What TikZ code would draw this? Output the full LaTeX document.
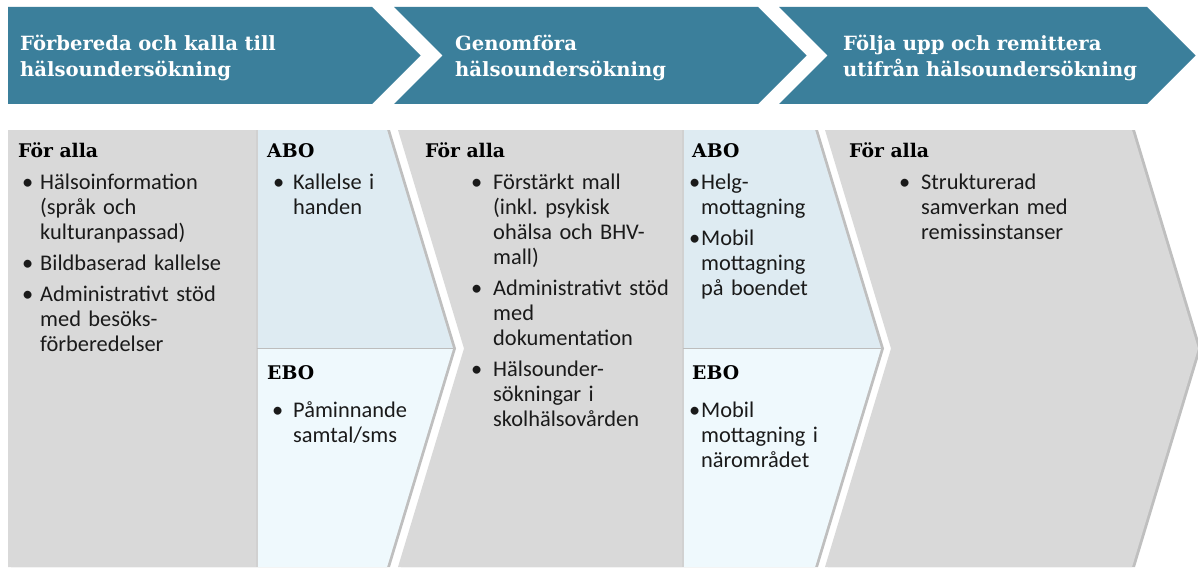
\documentclass[tikz,border=0pt]{standalone}
\usepackage{fontspec}
\setmainfont{Carlito}
\newfontfamily\headfont{DejaVu Serif}
\usetikzlibrary{shadows}
\frenchspacing
\definecolor{bannerblue}{HTML}{3B7F9B}
\definecolor{panelgrey}{HTML}{D9D9D9}
\definecolor{abofill}{HTML}{DEEBF2}
\definecolor{ebofill}{HTML}{EFF9FD}
\definecolor{sepgrey}{HTML}{BDBDBD}
\definecolor{bodytext}{HTML}{1A1A1A}
% bullet item with hanging text, #1 = indent from bullet to text
\newcommand{\itm}[2]{\setlength{\parskip}{6pt}\hangindent=#1\hangafter=1\noindent\hbox to #1{\textbullet\hfil}#2\par}
\tikzset{
  banner/.style={fill=bannerblue},
  panel/.style={fill=panelgrey, drop shadow={shadow xshift=3pt, shadow yshift=0pt, opacity=.5, fill=black!50}},
  abo/.style={fill=abofill},
  ebo/.style={fill=ebofill},
  sep/.style={draw=sepgrey, line width=1.2pt},
  title/.style={anchor=base west, inner sep=0pt, text width=340pt, align=left, text=white,
    font=\headfont\bfseries\fontsize{19.6}{26}\selectfont},
  head/.style={anchor=base west, inner sep=0pt, font=\headfont\bfseries\fontsize{18.8}{22}\selectfont},
  items/.style={anchor=base west, inner sep=0pt, text width=#1, align=left, text=bodytext,
    font=\fontsize{22.4}{25}\selectfont},
}
\begin{document}
\begin{tikzpicture}[x=1pt,y=-1pt]
\pgfmathsetmacro{\kbt}{7}
\pgfmathsetmacro{\kbd}{48.5}
\pgfmathsetmacro{\kpt}{130}
\pgfmathsetmacro{\kph}{218.5}
\pgfmathsetmacro{\kpd}{66}
\fill[white] (0,0) rectangle (1198,567);
\useasboundingbox (0,0) rectangle (1198,567);
%
% top banner
\fill[banner] (8,\kbt) --++ (364,0) --++ (\kbd,\kbd) --++ (-\kbd,\kbd) --++ (-364,0) -- cycle;
\fill[banner] (394,\kbt) --++ (364,0) --++ (\kbd,\kbd) --++ (-\kbd,\kbd) --++ (-364,0) --++ (\kbd,-\kbd) -- cycle;
\fill[banner] (779,\kbt) --++ (368,0) --++ (\kbd,\kbd) --++ (-\kbd,\kbd) --++ (-368,0) --++ (\kbd,-\kbd) -- cycle;
%
\node[title] (t1) at (20,51) {Förbereda och kalla till\\hälsoundersökning};
\node[title] (t2) at (455,51) {Genomföra\\hälsoundersökning};
\node[title] (t3) at (843,51) {Följa upp och remittera\\utifrån hälsoundersökning};
%
% panel 1
\fill[panel] (8,\kpt) --++ (379,0) --++ (\kpd,\kph) --++ (-\kpd,\kph) --++ (-379,0) -- cycle;
\fill[abo] (257,\kpt) --++ (130,0) --++ (\kpd,\kph) --++ (-196,0) -- cycle;
\fill[ebo] (257,\kpt+\kph) --++ (196,0) --++ (-\kpd,\kph) --++ (-130,0) -- cycle;
\draw[sep, sepgrey!70] (257,\kpt) --++ (0,2*\kph);
\draw[sep] (257,\kpt+\kph) --++ (196,0);
%
% panel 2
\fill[panel] (398,\kpt) --++ (417,0) --++ (\kpd,\kph) --++ (-\kpd,\kph) --++ (-417,0) --++ (\kpd,-\kph) -- cycle;
\fill[abo] (683,\kpt) --++ (132,0) --++ (\kpd,\kph) --++ (-198,0) -- cycle;
\fill[ebo] (683,\kpt+\kph) --++ (198,0) --++ (-\kpd,\kph) --++ (-132,0) -- cycle;
\draw[sep, sepgrey!70] (683,\kpt) --++ (0,2*\kph);
\draw[sep] (683,\kpt+\kph) --++ (198,0);
%
% panel 3
\fill[panel] (825,\kpt) --++ (307,0) --++ (\kpd,\kph) --++ (-\kpd,\kph) --++ (-307,0) --++ (\kpd,-\kph) -- cycle;
%
% texts
\node[head] (h1) at (18,157) {För alla};
\node[items=230pt] (l1) at (22,189) {%
  \itm{18pt}{Hälsoinformation\newline (språk och\newline kulturanpassad)}%
  \itm{18pt}{Bildbaserad kallelse}%
  \itm{18pt}{Administrativt stöd\newline med besöks-\newline förberedelser}};
\node[head] (a1) at (267,157) {ABO};
\node[items=120pt] (la1) at (273,189) {\itm{20pt}{Kallelse i\newline handen}};
\node[head] (e1) at (267,379) {EBO};
\node[items=140pt] (le1) at (272,417) {\itm{21pt}{Påminnande\newline samtal/sms}};
%
\node[head] (h2) at (425,157) {För alla};
\node[items=200pt] (l2) at (471,189) {%
  \itm{22pt}{Förstärkt mall\newline (inkl. psykisk\newline ohälsa och BHV-\newline mall)}%
  \itm{22pt}{Administrativt stöd\newline med\newline dokumentation}%
  \itm{22pt}{Hälsounder-\newline sökningar i\newline skolhälsovården}};
\node[head] (a2) at (692,157) {ABO};
\node[items=130pt] (la2) at (689,189) {%
  \itm{12pt}{Helg-\newline mottagning}%
  \itm{12pt}{Mobil\newline mottagning\newline på boendet}};
\node[head] (e2) at (692,379) {EBO};
\node[items=130pt] (le2) at (689,417) {\itm{12pt}{Mobil\newline mottagning i\newline närområdet}};
%
\node[head] (h3) at (849,157) {För alla};
\node[items=220pt] (l3) at (899,189) {\itm{22pt}{Strukturerad\newline samverkan med\newline remissinstanser}};
\end{tikzpicture}
\end{document}
